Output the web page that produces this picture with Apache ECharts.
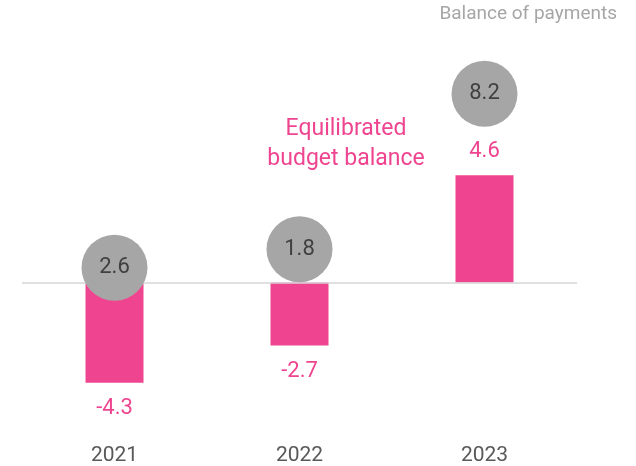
<!DOCTYPE html>
<html>
<head>
<meta charset="utf-8">
<script src="https://cdn.jsdelivr.net/npm/echarts@6/dist/echarts.min.js"></script>
<style>
  html, body { margin: 0; padding: 0; background: #fff; }
  #chart { width: 636px; height: 466px; }
</style>
</head>
<body>
<div id="chart"></div>
<script>
// budget balance per year (bars) and balance of payments (grey bubbles)
const years = ['2021', '2022', '2023'];
const budgetBalance = [-4.3, -2.7, 4.6];
const paymentsBalance = [2.6, 1.8, 8.2];
// where each bubble sits on the value axis (they are placed by hand in the source)
const bubbleLevel = [0.64, 1.43, 8.1];

const pink = '#EF4590';
const grey = '#A6A6A6';

const chart = echarts.init(document.getElementById('chart'));

chart.setOption({
    animation: false,
    textStyle: { fontFamily: 'Roboto' },
    grid: { left: 22, right: 59, top: 84.5, bottom: 29 },
    xAxis: {
        type: 'category',
        data: years,
        axisLine: { show: false, onZero: false },
        axisTick: { show: false },
        axisLabel: { color: '#595959', fontSize: 21, margin: 11 }
    },
    yAxis: {
        type: 'value',
        min: -6.5,
        max: 8.5,
        show: false
    },
    graphic: [{
        type: 'text',
        right: 19,
        top: 5,
        style: { text: 'Balance of payments', fill: grey, font: '19px Roboto' }
    }, {
        type: 'text',
        x: 346,
        y: 114,
        style: {
            text: 'Equilibrated\nbudget balance',
            fill: pink,
            font: '23px Roboto',
            align: 'center',
            verticalAlign: 'top',
            lineHeight: 30
        }
    }],
    series: [{
        type: 'bar',
        barWidth: 58,
        itemStyle: { color: pink },
        data: budgetBalance.map(function (v) {
            return {
                value: v,
                label: {
                    show: true,
                    position: v < 0 ? 'bottom' : 'top',
                    distance: v < 0 ? 15 : 13,
                    color: pink,
                    fontSize: 22
                }
            };
        }),
        markLine: {
            silent: true,
            symbol: 'none',
            label: { show: false },
            lineStyle: { color: '#D6D6D6', width: 1.5, type: 'solid' },
            data: [{ yAxis: 0 }]
        },
        z: 2
    }, {
        type: 'scatter',
        symbolSize: 66,
        itemStyle: { color: grey, opacity: 1 },
        label: {
            show: true,
            position: 'inside',
            color: '#404040',
            fontSize: 22,
            formatter: function (p) { return paymentsBalance[p.dataIndex].toFixed(1); }
        },
        data: bubbleLevel,
        z: 5
    }]
});
</script>
</body>
</html>
